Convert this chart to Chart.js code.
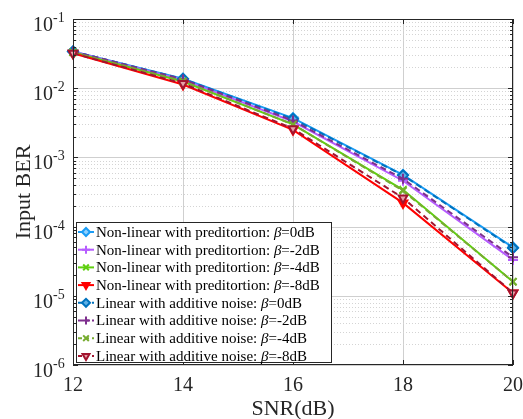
<!DOCTYPE html>
<html>
<head>
<meta charset="utf-8">
<script src="https://cdn.jsdelivr.net/npm/chart.js@4.4.1/dist/chart.umd.min.js"></script>
<style>
  html, body { margin: 0; padding: 0; background: #fff; }
  #wrap { width: 523px; height: 419px; }
</style>
</head>
<body>
<div id="wrap"><canvas id="berChart" width="523" height="419"></canvas></div>
<script>
// SNR values (dB) on the x axis
const snr = [12, 14, 16, 18, 20];

// Non-linear with predistortion
const nlBeta0 = [0.034, 0.0137, 0.0037, 5.6e-4, 5.0e-5];
const nlBeta2 = [0.034, 0.0132, 0.0033, 4.6e-4, 3.3e-5];
const nlBeta4 = [0.033, 0.0125, 0.0030, 3.4e-4, 1.6e-5];
const nlBeta8 = [0.032, 0.0113, 0.0025, 2.2e-4, 1.1e-5];

// Linear with additive noise
const linBeta0 = [0.034, 0.0136, 0.0036, 5.5e-4, 4.9e-5];
const linBeta2 = [0.034, 0.0134, 0.0034, 4.9e-4, 3.6e-5];
const linBeta4 = [0.033, 0.0126, 0.0030, 3.3e-4, 1.6e-5];
const linBeta8 = [0.032, 0.0117, 0.0026, 2.6e-4, 1.1e-5];

const betaLabels = ['=0dB', '=-2dB', '=-4dB', '=-8dB'];
const yDecades = [-6, -5, -4, -3, -2, -1];

const SERIF = '"Liberation Serif", "Times New Roman", serif';

function toPoints(vals) {
  return snr.map((x, i) => ({ x: x, y: vals[i] }));
}

function makeSet(prefix, beta, vals, color, style, opts) {
  return Object.assign({
    prefix: prefix,
    beta: beta,
    data: toPoints(vals),
    borderColor: color,
    backgroundColor: color,
    pointBorderColor: color,
    pointBackgroundColor: color,
    pointStyle: style,
    pointRadius: 5,
    pointBorderWidth: 2,
    borderWidth: 2,
    borderDash: [],
    clip: false,
    tension: 0
  }, opts || {});
}

const datasets = [
  makeSet('Non-linear with preditortion: ', betaLabels[0], nlBeta0, '#1a9cf5', 'rectRot', { pointBackgroundColor: '#8fd0ff' }),
  makeSet('Non-linear with preditortion: ', betaLabels[1], nlBeta2, '#b65cff', 'cross'),
  makeSet('Non-linear with preditortion: ', betaLabels[2], nlBeta4, '#5fcf10', 'crossRot'),
  makeSet('Non-linear with preditortion: ', betaLabels[3], nlBeta8, '#ff0000', 'triangle', { pointRotation: 180 }),
  makeSet('Linear with additive noise: ', betaLabels[0], linBeta0, '#0072bd', 'rectRot', { borderDash: [6, 4], pointBackgroundColor: '#5fb0e6' }),
  makeSet('Linear with additive noise: ', betaLabels[1], linBeta2, '#7e2f8e', 'cross', { borderDash: [6, 4] }),
  makeSet('Linear with additive noise: ', betaLabels[2], linBeta4, '#77ac30', 'crossRot', { borderDash: [6, 4] }),
  makeSet('Linear with additive noise: ', betaLabels[3], linBeta8, '#a2142f', 'triangle', { borderDash: [6, 4], pointRotation: 180, pointBackgroundColor: '#e8a0a8' })
];
// draw order: linear on top of non-linear like the figure
datasets.forEach((d, i) => { d.order = 8 - i; });

const matlabAxes = {
  id: 'matlabAxes',
  beforeDatasetsDraw(chart) {
    const { ctx, chartArea: a, scales: { y } } = chart;
    ctx.save();
    ctx.lineWidth = 1;
    // minor dotted grid
    ctx.strokeStyle = '#d4d4d4';
    ctx.setLineDash([1, 2]);
    yDecades.forEach(e => {
      if (e === -1) return;
      for (let k = 2; k <= 9; k++) {
        const py = Math.round(y.getPixelForValue(k * Math.pow(10, e))) + 0.5;
        ctx.beginPath(); ctx.moveTo(a.left, py); ctx.lineTo(a.right, py); ctx.stroke();
      }
    });
    // major grid
    ctx.setLineDash([]);
    ctx.strokeStyle = '#cfcfcf';
    yDecades.forEach(e => {
      const py = Math.round(y.getPixelForValue(Math.pow(10, e))) + 0.5;
      ctx.beginPath(); ctx.moveTo(a.left, py); ctx.lineTo(a.right, py); ctx.stroke();
    });
    ctx.restore();
  },
  afterDatasetsDraw(chart) {
    const { ctx, chartArea: a, scales: { x, y } } = chart;
    ctx.save();
    ctx.strokeStyle = '#262626';
    ctx.lineWidth = 1;
    ctx.setLineDash([]);

    // box
    ctx.strokeRect(a.left + 0.5, a.top + 0.5, a.right - a.left - 1, a.bottom - a.top - 1);

    // x ticks (inward, bottom and top)
    snr.forEach(v => {
      const px = Math.round(x.getPixelForValue(v)) + 0.5;
      ctx.beginPath();
      ctx.moveTo(px, a.bottom); ctx.lineTo(px, a.bottom - 5);
      ctx.moveTo(px, a.top); ctx.lineTo(px, a.top + 5);
      ctx.stroke();
    });

    // y ticks, major + minor, left and right
    yDecades.forEach(e => {
      for (let k = 1; k <= 9; k++) {
        if (e === -1 && k > 1) break;
        const py = Math.round(y.getPixelForValue(k * Math.pow(10, e))) + 0.5;
        const len = k === 1 ? 5 : 3;
        ctx.beginPath();
        ctx.moveTo(a.left, py); ctx.lineTo(a.left + len, py);
        ctx.moveTo(a.right, py); ctx.lineTo(a.right - len, py);
        ctx.stroke();
      }
    });

    // y tick labels 10^e
    ctx.fillStyle = '#262626';
    yDecades.forEach(e => {
      const py = y.getPixelForValue(Math.pow(10, e));
      ctx.font = '20px ' + SERIF;
      ctx.textAlign = 'right';
      ctx.textBaseline = 'alphabetic';
      ctx.fillText('10', 53, py + 12);
      ctx.font = '14px ' + SERIF;
      ctx.textAlign = 'left';
      ctx.fillText(String(e), 53, py + 3);
    });

    // axis titles
    ctx.font = '22px ' + SERIF;
    ctx.textAlign = 'center';
    ctx.textBaseline = 'middle';
    ctx.fillText('SNR(dB)', (a.left + a.right) / 2, 409);
    ctx.save();
    ctx.translate(24, (a.top + a.bottom) / 2);
    ctx.rotate(-Math.PI / 2);
    ctx.fillText('Input BER', 0, 0);
    ctx.restore();

    // legend inside the axes, lower left
    const lx = 76, ly = 222, lw = 255, lh = 140;
    ctx.fillStyle = '#ffffff';
    ctx.fillRect(lx, ly, lw, lh);
    ctx.strokeStyle = '#262626';
    ctx.strokeRect(lx + 0.5, ly + 0.5, lw, lh);
    const rowH = 17.7;
    datasets.forEach((d, i) => {
      const cy = ly + 10 + i * rowH;
      ctx.save();
      ctx.strokeStyle = d.borderColor;
      ctx.lineWidth = 2;
      ctx.setLineDash(d.borderDash.length ? [4, 3] : []);
      ctx.beginPath(); ctx.moveTo(lx + 2, cy); ctx.lineTo(lx + 18, cy); ctx.stroke();
      ctx.setLineDash([]);
      ctx.strokeStyle = d.pointBorderColor;
      ctx.fillStyle = d.pointBackgroundColor;
      ctx.lineWidth = 2;
      Chart.helpers.drawPoint(ctx, {
        pointStyle: d.pointStyle, rotation: d.pointRotation || 0, radius: 4, borderWidth: 2
      }, lx + 10, cy);
      ctx.restore();

      ctx.fillStyle = '#000000';
      ctx.textAlign = 'left';
      ctx.textBaseline = 'middle';
      let tx = lx + 20;
      ctx.font = '15px ' + SERIF;
      ctx.fillText(d.prefix, tx, cy + 1);
      tx += ctx.measureText(d.prefix).width;
      ctx.font = 'italic 15px ' + SERIF;
      ctx.fillText('\u03B2', tx, cy + 1);
      tx += ctx.measureText('\u03B2').width;
      ctx.font = '15px ' + SERIF;
      ctx.fillText(d.beta, tx, cy + 1);
    });
    ctx.restore();
  }
};

const ctx = document.getElementById('berChart').getContext('2d');
new Chart(ctx, {
  type: 'line',
  data: { datasets: datasets },
  options: {
    responsive: false,
    animation: false,
    devicePixelRatio: 1,
    layout: { padding: { top: 19, right: 10, left: 0, bottom: 0 } },
    plugins: { legend: { display: false }, tooltip: { enabled: false } },
    scales: {
      x: {
        type: 'linear',
        min: 12, max: 20,
        afterFit: s => { s.height = 54; s.paddingLeft = 0; s.paddingRight = 0; },
        ticks: {
          stepSize: 2,
          color: '#262626',
          padding: 9,
          font: { family: SERIF, size: 20 }
        },
        grid: { color: '#cfcfcf', drawTicks: false },
        border: { display: false }
      },
      y: {
        type: 'logarithmic',
        min: 1e-6, max: 1e-1,
        afterFit: s => { s.width = 73; s.paddingTop = 0; s.paddingBottom = 0; },
        ticks: { display: false },
        grid: { display: false },
        border: { display: false }
      }
    }
  },
  plugins: [matlabAxes]
});
</script>
</body>
</html>
